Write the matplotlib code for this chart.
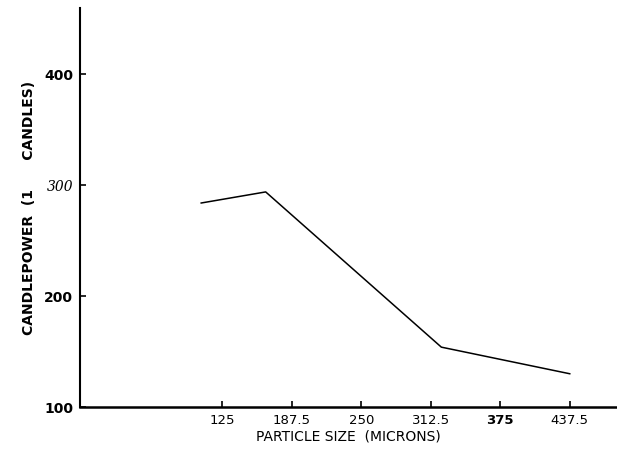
import matplotlib.pyplot as plt

# Data
particle_size = [106, 164, 322, 437.5]   # microns
candlepower = [284, 294, 154, 130]       # 1000 candles

x_ticks = [125, 187.5, 250, 312.5, 375, 437.5]
x_tick_labels = ['125', '187.5', '250', '312.5', '375', '437.5']
y_ticks = [100, 200, 300, 400]
y_tick_labels = ['100', '200', '300', '400']

fig = plt.figure(figsize=(6.17, 4.49), dpi=100)
ax = fig.add_axes([0.1297, 0.0935, 0.8703, 0.889])

ax.plot(particle_size, candlepower, color='black', linewidth=1.1)

ax.set_xlim(-3, 480)
ax.set_ylim(100, 460)

# Only the left and bottom axes lines
ax.spines['top'].set_visible(False)
ax.spines['right'].set_visible(False)
ax.spines['left'].set_linewidth(1.5)
ax.spines['bottom'].set_linewidth(1.8)

ax.set_xticks(x_ticks)
ax.set_xticklabels(x_tick_labels, fontsize=9.5, family=['Liberation Sans Narrow', 'DejaVu Sans'])
ax.set_yticks(y_ticks)
ax.set_yticklabels(y_tick_labels, fontsize=10, fontweight='bold')
ax.tick_params(axis='both', direction='in', length=4, width=1.2, pad=5)

# The scanned original has an italic serif "300"
for lbl in ax.get_yticklabels():
    if lbl.get_text() == '300':
        lbl.set_family('DejaVu Serif')
        lbl.set_style('italic')
        lbl.set_fontweight('normal')
for lbl in ax.get_xticklabels():
    if lbl.get_text() == '375':
        lbl.set_fontweight('bold')

ax.set_xlabel('PARTICLE SIZE  (MICRONS)', fontsize=10, labelpad=2)
ax.set_ylabel('CANDLEPOWER  (1      CANDLES)', fontsize=10, fontweight='bold', labelpad=6)

fig.savefig('out.png', dpi=100)
